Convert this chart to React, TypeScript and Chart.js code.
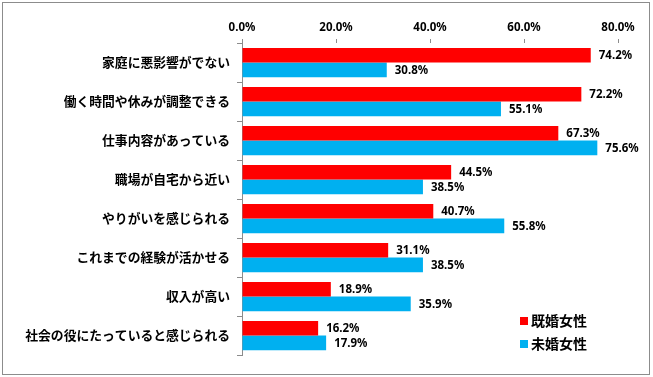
import React, { useEffect, useRef } from "react";
import { Chart, registerables } from "chart.js";

Chart.register(...registerables);

const categories = [
  "家庭に悪影響がでない",
  "働く時間や休みが調整できる",
  "仕事内容があっている",
  "職場が自宅から近い",
  "やりがいを感じられる",
  "これまでの経験が活かせる",
  "収入が高い",
  "社会の役にたっていると感じられる",
];
const marriedValues = [74.2, 72.2, 67.3, 44.5, 40.7, 31.1, 18.9, 16.2];
const unmarriedValues = [30.8, 55.1, 75.6, 38.5, 55.8, 38.5, 35.9, 17.9];
const seriesLabels = ["既婚女性", "未婚女性"];
const seriesColors = ["#FF0000", "#00B0F0"];
const xMin = 0;
const xMax = 80;
const xStep = 20;

const frameAndLegendPlugin = {
  id: "frameAndLegend",
  beforeDraw(chart: any) {
    const ctx = chart.ctx;
    ctx.save();
    ctx.fillStyle = "#ffffff";
    ctx.fillRect(0, 0, chart.width, chart.height);
    ctx.strokeStyle = "#8c8c8c";
    ctx.lineWidth = 1;
    ctx.strokeRect(2.5, 2.5, 647, 372);
    ctx.restore();
  },
  afterDatasetsDraw(chart: any) {
    const ctx = chart.ctx;
    ctx.save();
    // value labels
    ctx.font = "bold 11.5px 'Noto Sans'";
    ctx.fillStyle = "#000";
    ctx.textBaseline = "middle";
    ctx.textAlign = "left";
    chart.data.datasets.forEach((ds: any, i: number) => {
      const meta = chart.getDatasetMeta(i);
      meta.data.forEach((bar: any, j: number) => {
        const v = ds.data[j] as number;
        ctx.fillText(v.toFixed(1) + "%", bar.x + 8, bar.y + 1);
      });
    });
    // legend
    const area = chart.chartArea;
    const lx = area.right - 98;
    const ly0 = area.bottom - 34;
    ctx.font = "bold 14px 'Noto Sans CJK JP'";
    chart.data.datasets.forEach((ds: any, i: number) => {
      const y = ly0 + i * 23;
      ctx.fillStyle = ds.backgroundColor;
      ctx.fillRect(lx, y - 4, 8, 8);
      ctx.fillStyle = "#000";
      ctx.fillText(ds.label, lx + 11, y);
    });
    ctx.restore();
  },
};

export default function App() {
  const canvasRef = useRef<HTMLCanvasElement | null>(null);

  useEffect(() => {
    if (!canvasRef.current) return;
    const chart = new Chart(canvasRef.current, {
      type: "bar",
      data: {
        labels: categories,
        datasets: [
          {
            label: seriesLabels[0],
            data: marriedValues,
            backgroundColor: seriesColors[0],
            categoryPercentage: 0.75,
            barPercentage: 1.0,
          },
          {
            label: seriesLabels[1],
            data: unmarriedValues,
            backgroundColor: seriesColors[1],
            categoryPercentage: 0.75,
            barPercentage: 1.0,
          },
        ],
      },
      options: {
        indexAxis: "y",
        responsive: false,
        animation: false,
        layout: { padding: { left: 0, right: 35, top: 0, bottom: 22 } },
        plugins: {
          legend: { display: false },
          tooltip: { enabled: false },
        },
        scales: {
          x: {
            type: "linear",
            position: "top",
            min: xMin,
            max: xMax,
            afterFit: (scale: any) => {
              scale.height = 43;
            },
            ticks: {
              stepSize: xStep,
              color: "#000",
              padding: 4,
              font: { family: "'Noto Sans'", size: 11.5, weight: "bold" },
              callback: (v: any) => Number(v).toFixed(1) + "%",
            },
            grid: {
              drawOnChartArea: false,
              drawTicks: true,
              tickLength: 4,
              color: "#8c8c8c",
            },
            border: { display: false },
          },
          y: {
            type: "category",
            afterFit: (scale: any) => {
              scale.width = 242;
            },
            ticks: {
              color: "#000",
              padding: 7,
              font: { family: "'Noto Sans CJK JP'", size: 12.8, weight: "bold" },
            },
            grid: {
              offset: true,
              drawOnChartArea: false,
              drawTicks: true,
              tickLength: 5,
              color: "#8c8c8c",
            },
            border: { display: true, color: "#8c8c8c" },
          },
        },
      },
      plugins: [frameAndLegendPlugin],
    } as any);
    return () => chart.destroy();
  }, []);

  return (
    <div style={{ position: "fixed", left: 0, top: 0, width: 653, height: 377 }}>
      <canvas ref={canvasRef} width={653} height={377} />
    </div>
  );
}
